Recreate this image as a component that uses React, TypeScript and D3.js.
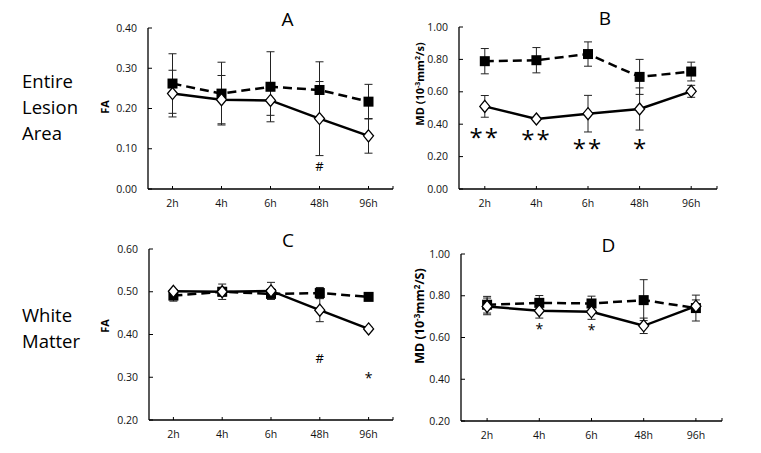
import React from "react";
import * as d3 from "d3";

const categories = ["2h", "4h", "6h", "48h", "96h"];

// Panel A: Entire lesion area, FA
const aDashed = [0.262, 0.237, 0.254, 0.246, 0.217];
const aDashedErr = [0.074, 0.078, 0.087, 0.07, 0.043];
const aSolid = [0.237, 0.222, 0.22, 0.175, 0.132];
const aSolidErr = [0.058, 0.06, 0.037, 0.092, 0.043];

// Panel B: Entire lesion area, MD
const bDashed = [0.789, 0.795, 0.833, 0.692, 0.725];
const bDashedErr = [0.078, 0.078, 0.075, 0.108, 0.058];
const bSolid = [0.51, 0.432, 0.465, 0.494, 0.603];
const bSolidErr = [0.067, 0.01, 0.113, 0.13, 0.037];

// Panel C: White matter, FA
const cDashed = [0.491, 0.5, 0.495, 0.497, 0.488];
const cDashedErr = [0.013, 0.018, 0.012, 0.013, 0.004];
const cSolid = [0.501, 0.5, 0.502, 0.457, 0.413];
const cSolidErr = [0.004, 0.01, 0.02, 0.027, 0.004];

// Panel D: White matter, MD
const dDashed = [0.757, 0.766, 0.763, 0.779, 0.741];
const dDashedErr = [0.04, 0.035, 0.035, 0.098, 0.062];
const dSolid = [0.749, 0.728, 0.723, 0.656, 0.75];
const dSolidErr = [0.04, 0.035, 0.036, 0.037, 0.03];

const faTicksA = [0, 0.1, 0.2, 0.3, 0.4];
const mdTicksB = [0, 0.2, 0.4, 0.6, 0.8, 1.0];
const faTicksC = [0.2, 0.3, 0.4, 0.5, 0.6];
const mdTicksD = [0.2, 0.4, 0.6, 0.8, 1.0];

// significance marks: [category, value position, text]
const aMarks: [string, number, string][] = [["48h", 0.055, "#"]];
const bMarks: [string, number, string][] = [
  ["2h", 0.33, "**"],
  ["4h", 0.318, "**"],
  ["6h", 0.262, "**"],
  ["48h", 0.262, "*"],
];
const cMarks: [string, number, string][] = [
  ["48h", 0.345, "#"],
  ["96h", 0.3, "*"],
];
const dMarks: [string, number, string][] = [
  ["4h", 0.645, "*"],
  ["6h", 0.641, "*"],
];

const FONT = "'Open Sans', 'DejaVu Sans', sans-serif";

type PanelProps = {
  title: string;
  left: number;
  right: number;
  top: number;
  bottom: number;
  domain: [number, number];
  ticks: number[];
  dashed: number[];
  dashedErr: number[];
  solid: number[];
  solidErr: number[];
  marks: [string, number, string][];
  markSize: number;
  yLabel: React.ReactNode;
  yLabelX: number;
  yLabelY: number;
  yLabelSize: number;
};

function Panel(p: PanelProps) {
  const x = d3
    .scaleBand<string>()
    .domain(categories)
    .range([p.left, p.right])
    .paddingInner(0)
    .paddingOuter(0);
  const cx = (c: string) => (x(c) as number) + x.bandwidth() / 2;
  const y = d3.scaleLinear().domain(p.domain).range([p.bottom, p.top]);
  const line = d3
    .line<number>()
    .x((_, i) => cx(categories[i]))
    .y((v) => y(v));

  const errBars = (vals: number[], errs: number[], key: string) =>
    vals.map((v, i) => {
      const px = cx(categories[i]);
      const y1 = y(v + errs[i]);
      const y2 = y(v - errs[i]);
      return (
        <g key={key + i} stroke="#222" strokeWidth={1}>
          <line x1={px} x2={px} y1={y1} y2={y2} />
          <line x1={px - 4} x2={px + 4} y1={y1} y2={y1} />
          <line x1={px - 4} x2={px + 4} y1={y2} y2={y2} />
        </g>
      );
    });

  const titleX = (p.left + p.right) / 2 + 17;

  return (
    <g>
      <text
        x={titleX}
        y={p.top - 2}
        fontSize={19}
        fontFamily={FONT}
        textAnchor="middle"
        fill="#000"
      >
        {p.title}
      </text>
      {/* y axis */}
      <line x1={p.left} x2={p.left} y1={p.top} y2={p.bottom} stroke="#000" strokeWidth={1.3} />
      {p.ticks.map((t) => (
        <g key={"yt" + t}>
          <line x1={p.left} x2={p.left + 4} y1={y(t)} y2={y(t)} stroke="#000" strokeWidth={1} />
          <text
            x={p.left - 11}
            y={y(t)}
            dy="0.35em"
            fontSize={10.5}
            fontFamily={FONT}
            textAnchor="end"
            fill="#111"
          >
            {d3.format(".2f")(t)}
          </text>
        </g>
      ))}
      {/* x axis */}
      <line x1={p.left} x2={p.right} y1={p.bottom} y2={p.bottom} stroke="#000" strokeWidth={1.3} />
      <line x1={p.right} x2={p.right} y1={p.bottom} y2={p.bottom - 3} stroke="#000" strokeWidth={1} />
      {categories.map((c) => (
        <g key={"xt" + c}>
          <line x1={cx(c)} x2={cx(c)} y1={p.bottom} y2={p.bottom - 3} stroke="#000" strokeWidth={1} />
          <text
            x={cx(c)}
            y={p.bottom + 18}
            fontSize={10.5}
            fontFamily={FONT}
            textAnchor="middle"
            fill="#111"
          >
            {c}
          </text>
        </g>
      ))}
      {/* y label */}
      <text
        transform={`translate(${p.yLabelX},${p.yLabelY}) rotate(-90)`}
        fontSize={p.yLabelSize}
        fontFamily={FONT}
        fontWeight="bold"
        textAnchor="middle"
        fill="#000"
      >
        {p.yLabel}
      </text>
      {errBars(p.dashed, p.dashedErr, "de")}
      {errBars(p.solid, p.solidErr, "se")}
      <path d={line(p.dashed) || ""} fill="none" stroke="#000" strokeWidth={2.5} strokeDasharray="9,5" />
      <path d={line(p.solid) || ""} fill="none" stroke="#000" strokeWidth={2.5} />
      {p.dashed.map((v, i) => (
        <rect key={"sq" + i} x={cx(categories[i]) - 5} y={y(v) - 5} width={10} height={10} fill="#000" />
      ))}
      {p.solid.map((v, i) => {
        const px = cx(categories[i]);
        const py = y(v);
        return (
          <path
            key={"dm" + i}
            d={`M${px},${py - 6}L${px + 5},${py}L${px},${py + 6}L${px - 5},${py}Z`}
            fill="#fff"
            stroke="#000"
            strokeWidth={1.3}
          />
        );
      })}
      {p.marks.map(([c, v, t], i) => (
        <text
          key={"mk" + i}
          x={cx(c)}
          y={y(v)}
          dy={t === "#" ? "0.35em" : `${0.42}em`}
          fontSize={t === "#" ? 13 : p.markSize}
          fontFamily={FONT}
          textAnchor="middle"
          letterSpacing={t.length > 1 ? 2 : 0}
          fill="#000"
        >
          {t}
        </text>
      ))}
    </g>
  );
}

export default function App() {
  return (
    <svg width={761} height={453} style={{ position: "absolute", left: 0, top: 0, background: "#fff" }}>
      <rect width={761} height={453} fill="#fff" />
      <g fontFamily={FONT} fontSize={18.5} fill="#000">
        <text x={22} y={88}>Entire</text>
        <text x={22} y={114}>Lesion</text>
        <text x={22} y={140}>Area</text>
        <text x={22} y={322}>White</text>
        <text x={22} y={348}>Matter</text>
      </g>
      <Panel
        title="A"
        left={148}
        right={393}
        top={28}
        bottom={189}
        domain={[0, 0.4]}
        ticks={faTicksA}
        dashed={aDashed}
        dashedErr={aDashedErr}
        solid={aSolid}
        solidErr={aSolidErr}
        marks={aMarks}
        markSize={22}
        yLabel="FA"
        yLabelX={109}
        yLabelY={107}
        yLabelSize={11}
      />
      <Panel
        title="B"
        left={459}
        right={717}
        top={27}
        bottom={189}
        domain={[0, 1]}
        ticks={mdTicksB}
        dashed={bDashed}
        dashedErr={bDashedErr}
        solid={bSolid}
        solidErr={bSolidErr}
        marks={bMarks}
        markSize={24}
        yLabel={
          <>
            MD (10<tspan dy={-4} fontSize={7}>-3</tspan>
            <tspan dy={4}>mm</tspan>
            <tspan dy={-4} fontSize={7}>2</tspan>
            <tspan dy={4}>/s)</tspan>
          </>
        }
        yLabelX={424}
        yLabelY={84}
        yLabelSize={11}
      />
      <Panel
        title="C"
        left={149}
        right={393}
        top={249}
        bottom={420}
        domain={[0.2, 0.6]}
        ticks={faTicksC}
        dashed={cDashed}
        dashedErr={cDashedErr}
        solid={cSolid}
        solidErr={cSolidErr}
        marks={cMarks}
        markSize={14}
        yLabel="FA"
        yLabelX={109}
        yLabelY={326}
        yLabelSize={11}
      />
      <Panel
        title="D"
        left={461}
        right={722}
        top={254}
        bottom={421}
        domain={[0.2, 1.0]}
        ticks={mdTicksD}
        dashed={dDashed}
        dashedErr={dDashedErr}
        solid={dSolid}
        solidErr={dSolidErr}
        marks={dMarks}
        markSize={14}
        yLabel={
          <>
            MD (10<tspan dy={-4} fontSize={8}>-3</tspan>
            <tspan dy={4}>mm</tspan>
            <tspan dy={-4} fontSize={8}>2</tspan>
            <tspan dy={4}>/S)</tspan>
          </>
        }
        yLabelX={424}
        yLabelY={316}
        yLabelSize={12.5}
      />
    </svg>
  );
}
